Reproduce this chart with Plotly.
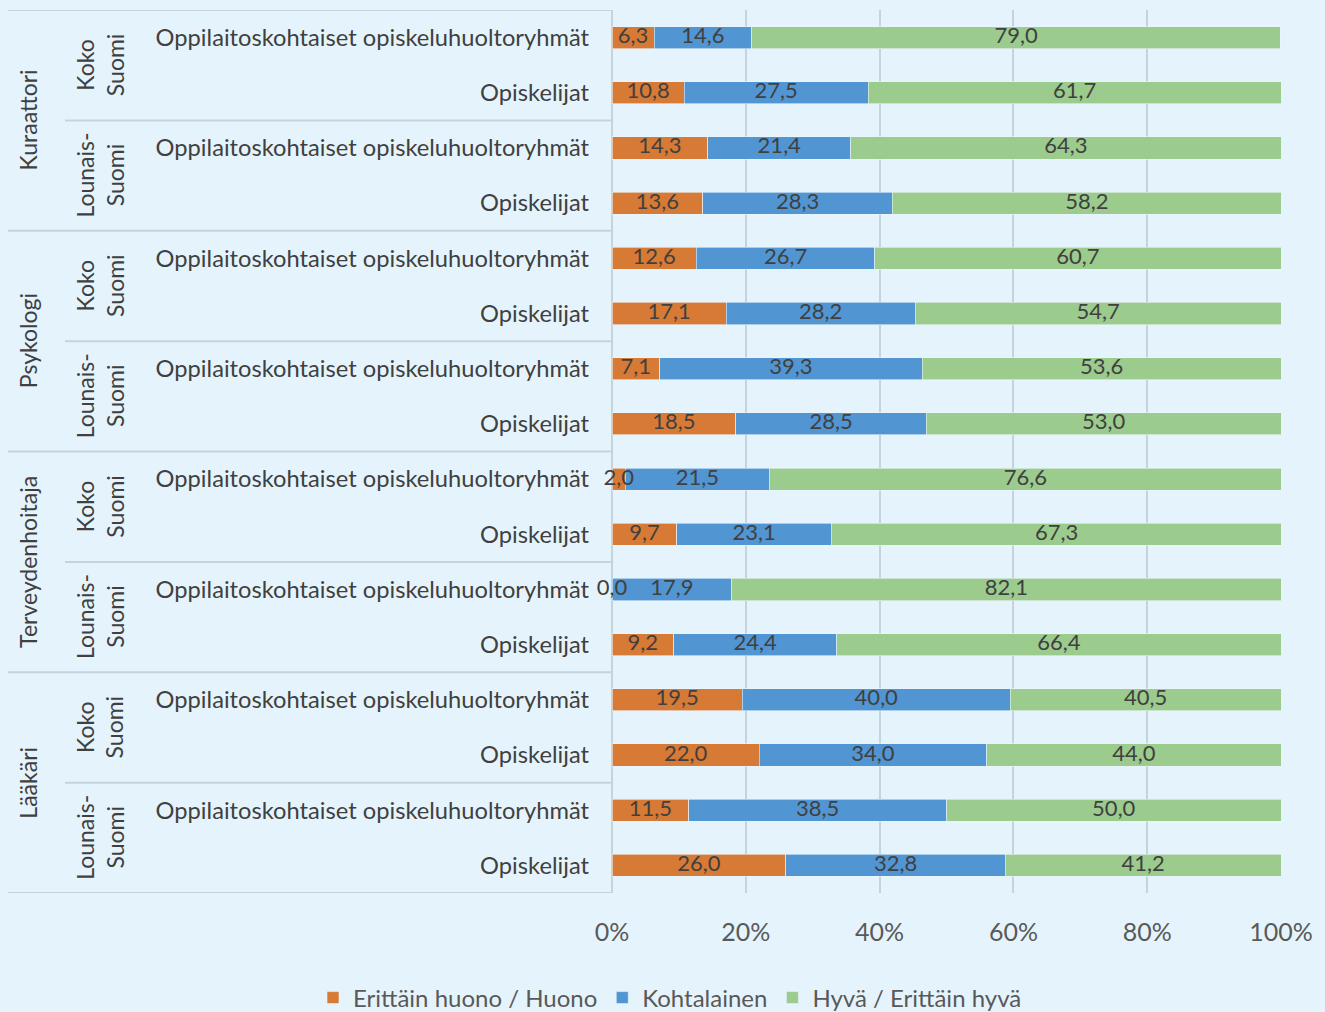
import plotly.graph_objects as go

professions = ["Kuraattori", "Psykologi", "Terveydenhoitaja", "Lääkäri"]
regions = ["Koko<br>Suomi", "Lounais-<br>Suomi"]
row_labels = ["Oppilaitoskohtaiset opiskeluhuoltoryhmät", "Opiskelijat"] * 8

poor = [6.3, 10.8, 14.3, 13.6, 12.6, 17.1, 7.1, 18.5, 2.0, 9.7, 0.0, 9.2, 19.5, 22.0, 11.5, 26.0]
moderate = [14.6, 27.5, 21.4, 28.3, 26.7, 28.2, 39.3, 28.5, 21.5, 23.1, 17.9, 24.4, 40.0, 34.0, 38.5, 32.8]
good = [79.0, 61.7, 64.3, 58.2, 60.7, 54.7, 53.6, 53.0, 76.6, 67.3, 82.1, 66.4, 40.5, 44.0, 50.0, 41.2]

series_names = ["Erittäin huono / Huono", "Kohtalainen", "Hyvä / Erittäin hyvä"]
colors = ["#D77A35", "#5195D3", "#9BCB8D"]
x_ticks = [0, 20, 40, 60, 80, 100]
x_tick_labels = ["0%", "20%", "40%", "60%", "80%", "100%"]

FONT = "Lato"
BG = "#E5F4FC"
LINE = "#C5D3DD"
TXT = "#404040"

W, H = 1325, 1012
L, R, T, B = 612, 44, 10, 119
plot_w = W - L - R
plot_h = H - T - B

ys = list(range(len(row_labels)))
fig = go.Figure()
series = [poor, moderate, good]
for name, vals, col in zip(series_names, series, colors):
    fig.add_trace(go.Bar(
        y=ys, x=vals, name=name, orientation="h",
        marker=dict(color=col, line=dict(width=0.6, color="#EAF5FB")),
        hoverinfo="x+name",
    ))

# data labels centered in each segment
base = [0.0] * len(ys)
for vals in series:
    mids = [b + v / 2 for b, v in zip(base, vals)]
    fig.add_trace(go.Scatter(
        x=mids, y=ys, mode="text",
        text=[f"{v:.1f}".replace(".", ",") for v in vals],
        textfont=dict(family=FONT, size=22, color=TXT),
        textposition="middle center", showlegend=False, hoverinfo="skip", cliponaxis=False,
    ))
    base = [b + v for b, v in zip(base, vals)]

def px_to_paper(px):
    return (px - L) / plot_w

shapes = []
# horizontal separators
for k in range(0, 17, 2):
    y = k - 0.5
    x0 = 8 if k % 4 == 0 else 65
    shapes.append(dict(type="line", xref="paper", yref="y", x0=px_to_paper(x0), x1=0,
                       y0=y, y1=y, line=dict(color=LINE, width=2), layer="below"))
# left plot border
shapes.append(dict(type="line", xref="paper", yref="y", x0=0, x1=0, y0=-0.5, y1=15.5,
                   line=dict(color=LINE, width=2), layer="below"))

annotations = []
for i, p in enumerate(professions):
    annotations.append(dict(xref="paper", yref="y", x=px_to_paper(28), y=4 * i + 1.5,
                            text=p, textangle=-90, showarrow=False,
                            font=dict(family=FONT, size=23, color=TXT),
                            xanchor="center", yanchor="middle"))
    for j, r in enumerate(regions):
        annotations.append(dict(xref="paper", yref="y", x=px_to_paper(100), y=4 * i + 2 * j + 0.5,
                                text=r, textangle=-90, showarrow=False,
                                font=dict(family=FONT, size=23, color=TXT),
                                xanchor="center", yanchor="middle"))

fig.update_layout(
    width=W, height=H,
    margin=dict(l=L, r=R, t=T, b=B, pad=0, autoexpand=False),
    paper_bgcolor=BG, plot_bgcolor=BG,
    barmode="stack", bargap=0.6,
    font=dict(family=FONT, color=TXT),
    shapes=shapes, annotations=annotations,
    legend=dict(orientation="h", xref="paper", yref="paper", x=px_to_paper(313),
                y=(H - B - 998) / plot_h,
                xanchor="left", yanchor="middle",
                font=dict(family=FONT, size=24, color="#595959"),
                itemwidth=30, traceorder="normal", bgcolor="rgba(0,0,0,0)"),
    showlegend=True,
)
fig.update_xaxes(range=[0, 100], tickvals=x_ticks, ticktext=x_tick_labels,
                 showgrid=True, gridcolor=LINE, gridwidth=2, zeroline=False,
                 ticks="outside", ticklen=0, tickcolor=LINE,
                 tickfont=dict(family=FONT, size=25, color="#595959"),
                 ticklabelstandoff=17, fixedrange=True, automargin=False)
fig.update_yaxes(range=[15.5, -0.5], tickvals=ys, ticktext=row_labels,
                 showgrid=False, zeroline=False, ticks="",
                 tickfont=dict(family=FONT, size=23.7, color=TXT),
                 ticklabelstandoff=22, fixedrange=True, automargin=False)

fig.write_html("out.html", config={"displayModeBar": False},
               post_script="document.body.style.margin='0';document.body.style.background='%s';" % BG)
